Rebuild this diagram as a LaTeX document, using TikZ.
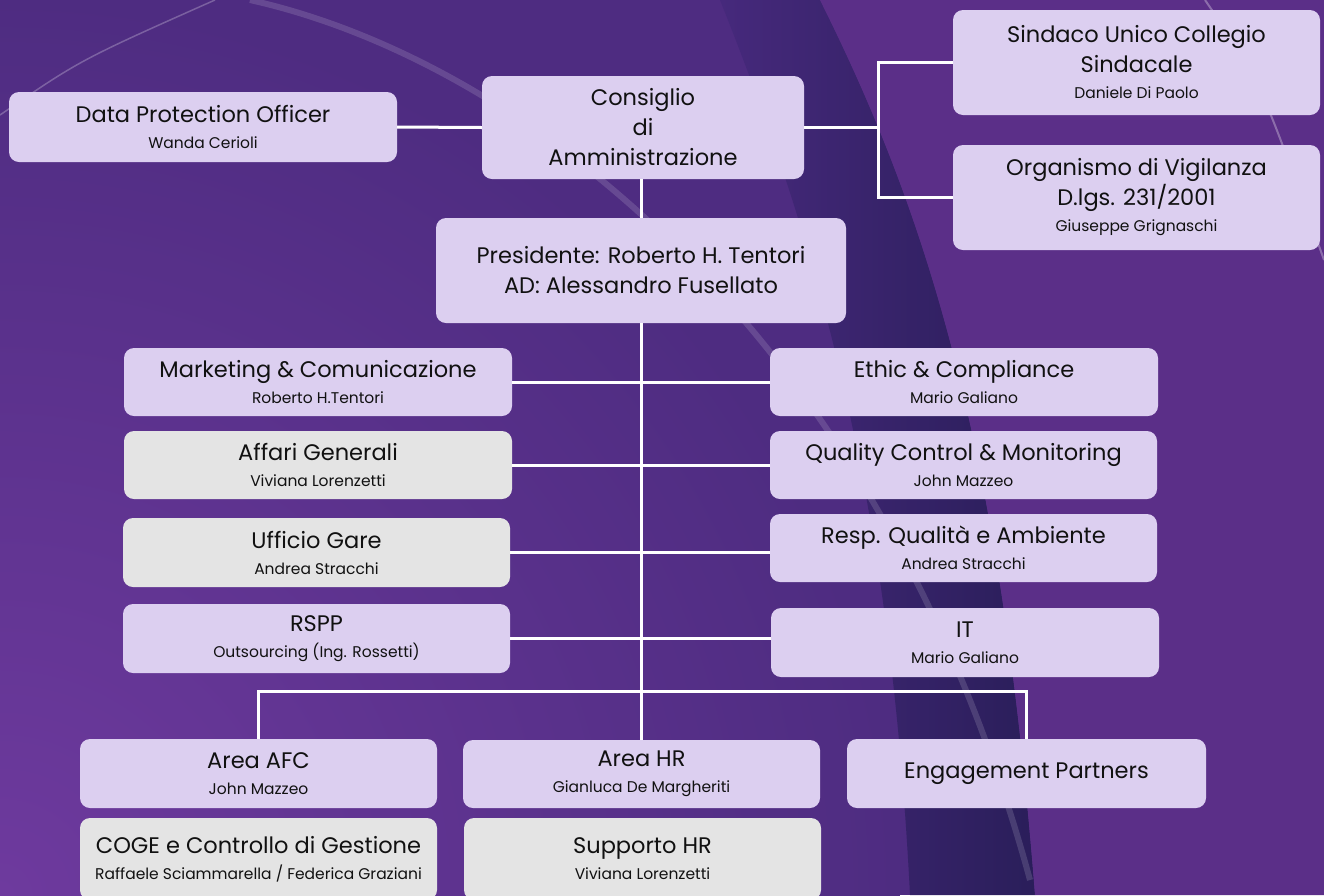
\documentclass[tikz,border=0pt]{standalone}
\usepackage{fontspec}
\setmainfont{Poppins}
\definecolor{bgbase}{HTML}{4E2C81}
\definecolor{bgright}{HTML}{5B2F88}
\definecolor{bglight}{HTML}{6E3A9E}
\definecolor{bgdark}{HTML}{2A1E5A}
\definecolor{bgmid}{HTML}{46297C}
\definecolor{lav}{HTML}{DCCFF0}
\definecolor{greyfill}{HTML}{E4E4E4}
\definecolor{ink}{HTML}{111111}
\newcommand{\subt}[1]{{\fontsize{15.5}{17}\selectfont #1}}
\begin{document}
\begin{tikzpicture}[x=1pt,y=-1pt,
  box/.style={rounded corners=10pt, inner sep=0pt, align=center, text=ink, font=\fontsize{22.5}{30}\selectfont},
  lavbox/.style={box, fill=lav},
  gbox/.style={box, fill=greyfill},
  sz/.style 2 args={minimum width=#1pt, minimum height=#2pt},
  wire/.style={draw=white, line width=3pt}]
\useasboundingbox (0,0) rectangle (1324,895);
\begin{scope}
\clip (0,0) rectangle (1324,895);
% background
\fill[bgbase] (0,0) rectangle (1324,895);
\shade[inner color=bglight, outer color=bgbase] (0,895) circle (900);
\shade[left color=bgmid, right color=bgdark]
  (720,0) .. controls (820,250) and (890,500) .. (910,895) -- (1035,895)
  .. controls (1000,450) and (930,220) .. (820,0) -- cycle;
\fill[bgright] (820,0) .. controls (930,220) and (1000,450) .. (1035,895)
  -- (1324,895) -- (1324,0) -- cycle;
\draw[white, opacity=0.14, line width=6pt] (250,0) .. controls (520,60) and (880,330) .. (1030,880);
\draw[white, opacity=0.25, line width=1.5pt] (0,115) .. controls (80,60) .. (215,0);
\draw[white, opacity=0.3, line width=2pt] (1205,0) .. controls (1260,80) .. (1324,260);

% boxes
\node[lavbox, sz={388}{70}] (dpo) at (203,127) {Data Protection Officer\\[-4pt]\subt{Wanda Cerioli}};
\node[lavbox, sz={322}{103}] (cda) at (643,127.5) {Consiglio\\di\\Amministrazione};
\node[lavbox, sz={367}{105}] (sind) at (1136.5,62.5) {Sindaco Unico Collegio\\Sindacale\\[-4pt]\subt{Daniele Di Paolo}};
\node[lavbox, sz={367}{105}] (org) at (1136.5,197.5) {Organismo di Vigilanza\\D.lgs. 231/2001\\[-4pt]\subt{Giuseppe Grignaschi}};
\node[lavbox, sz={410}{105}] (pres) at (641,270.5) {Presidente: Roberto H. Tentori\\AD: Alessandro Fusellato};

\node[lavbox, sz={388}{68}] (mkt) at (318,382) {Marketing \& Comunicazione\\[-4pt]\subt{Roberto H.Tentori}};
\node[gbox, sz={388}{68}] (aff) at (318,465) {Affari Generali\\[-4pt]\subt{Viviana Lorenzetti}};
\node[gbox, sz={387}{69}] (uff) at (316.5,552.5) {Ufficio Gare\\[-4pt]\subt{Andrea Stracchi}};
\node[lavbox, sz={387}{69}] (rspp) at (316.5,638.5) {RSPP\\[-4pt]\subt{Outsourcing (Ing. Rossetti)}};

\node[lavbox, sz={388}{68}] (eth) at (964,382) {Ethic \& Compliance\\[-4pt]\subt{Mario Galiano}};
\node[lavbox, sz={387}{68}] (qc) at (963.5,465) {Quality Control \& Monitoring\\[-4pt]\subt{John Mazzeo}};
\node[lavbox, sz={387}{68}] (resp) at (963.5,548) {Resp. Qualità e Ambiente\\[-4pt]\subt{Andrea Stracchi}};
\node[lavbox, sz={388}{69}] (it) at (965,642.5) {IT\\[-4pt]\subt{Mario Galiano}};

\node[lavbox, sz={357}{69}] (afc) at (258.5,773.5) {Area AFC\\[-4pt]\subt{John Mazzeo}};
\node[lavbox, sz={357}{68}] (hr) at (641.5,774) {Area HR\\[-4pt]\subt{Gianluca De Margheriti}};
\node[lavbox, sz={359}{69}] (ep) at (1026.5,773.5) {Engagement Partners};
\node[gbox, sz={357}{82}] (coge) at (258.5,859) {COGE e Controllo di Gestione\\[-4pt]\subt{Raffaele Sciammarella / Federica Graziani}};
\node[gbox, sz={357}{82}] (shr) at (642.5,859) {Supporto HR\\[-4pt]\subt{Viviana Lorenzetti}};

% connectors
\coordinate (j1) at (878,127.5);
\draw[wire] (dpo.east) -- (cda.west);
\draw[wire] (cda.east) -- (j1);
\draw[wire] (sind.west) -| (j1);
\draw[wire] (org.west) -| (j1);
\draw[wire] (pres.north) -- (pres.north |- cda.south);
\draw[wire] (pres.south) -- (pres.south |- hr.north);
\draw[wire] (mkt.east) -- (eth.west);
\draw[wire] (aff.east) -- (qc.west);
\draw[wire] (uff.east) -- (uff.east -| resp.west);
\draw[wire] (rspp.east) -- (rspp.east -| it.west);
\draw[wire] (afc.north) -- ++(0,-47) -| (ep.north);
\end{scope}
\end{tikzpicture}
\end{document}
